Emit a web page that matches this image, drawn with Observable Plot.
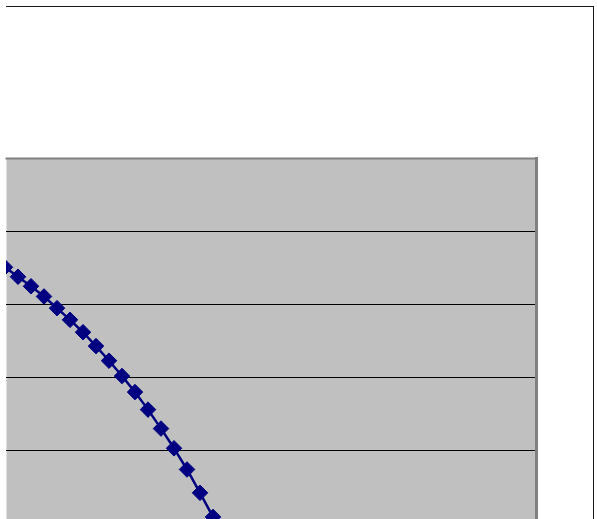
<!DOCTYPE html>
<html>
<head>
<meta charset="utf-8">
<script src="https://cdn.jsdelivr.net/npm/d3@7"></script>
<script src="https://cdn.jsdelivr.net/npm/@observablehq/plot@0.6"></script>
<style>
  html, body { margin: 0; padding: 0; background: #fff; }
  #wrap { position: relative; width: 597px; height: 519px; overflow: hidden; background: #fff; }
  #outer { position: absolute; left: 6px; top: 6px; width: 587px; height: 600px;
           border-top: 1px solid #1a1a1a; border-right: 1px solid #1a1a1a; }
  #chart { position: absolute; left: 0; top: 0; }
</style>
</head>
<body>
<div id="wrap"><div id="chart"></div><div id="outer"></div></div>
<script>
// Series: point index and value (grid step = 1 unit)
const pointIndex = [0, 1, 2, 3, 4, 5, 6, 7, 8, 9, 10, 11, 12, 13, 14, 15, 16];
const seriesValues = [3.51, 3.38, 3.25, 3.11, 2.95, 2.79, 2.62, 2.43, 2.23, 2.02, 1.80, 1.56, 1.30, 1.03, 0.74, 0.42, 0.09];
const gridValues = [1, 2, 3, 4];

const data = pointIndex.map((k, i) => ({k, v: seriesValues[i]}));

const diamond = {
  draw(context, size) {
    const h = Math.sqrt(size / 2);
    context.moveTo(0, -h);
    context.lineTo(h, 0);
    context.lineTo(0, h);
    context.lineTo(-h, 0);
    context.closePath();
  }
};

const chart = Plot.plot({
  width: 597,
  height: 519,
  marginLeft: 6,
  marginRight: 61,
  marginTop: 158,
  marginBottom: -4,
  x: {domain: [0.115, 40.88], axis: null},
  y: {domain: [0, 5], axis: null},
  style: {background: "transparent", overflow: "hidden"},
  marks: [
    Plot.frame({fill: "#c0c0c0", stroke: null}),
    Plot.ruleY(gridValues, {stroke: "#000000", strokeWidth: 1}),
    Plot.frame({anchor: "top", stroke: "#808080", strokeWidth: 2}),
    Plot.frame({anchor: "right", stroke: "#808080", strokeWidth: 3}),
    Plot.line(data, {x: "k", y: "v", stroke: "#000080", strokeWidth: 2.5, clip: "frame"}),
    Plot.dot(data, {x: "k", y: "v", symbol: diamond, r: 6.2, fill: "#000080", stroke: "#000080", strokeWidth: 1, clip: "frame"})
  ]
});
document.getElementById("chart").appendChild(chart);
</script>
</body>
</html>
